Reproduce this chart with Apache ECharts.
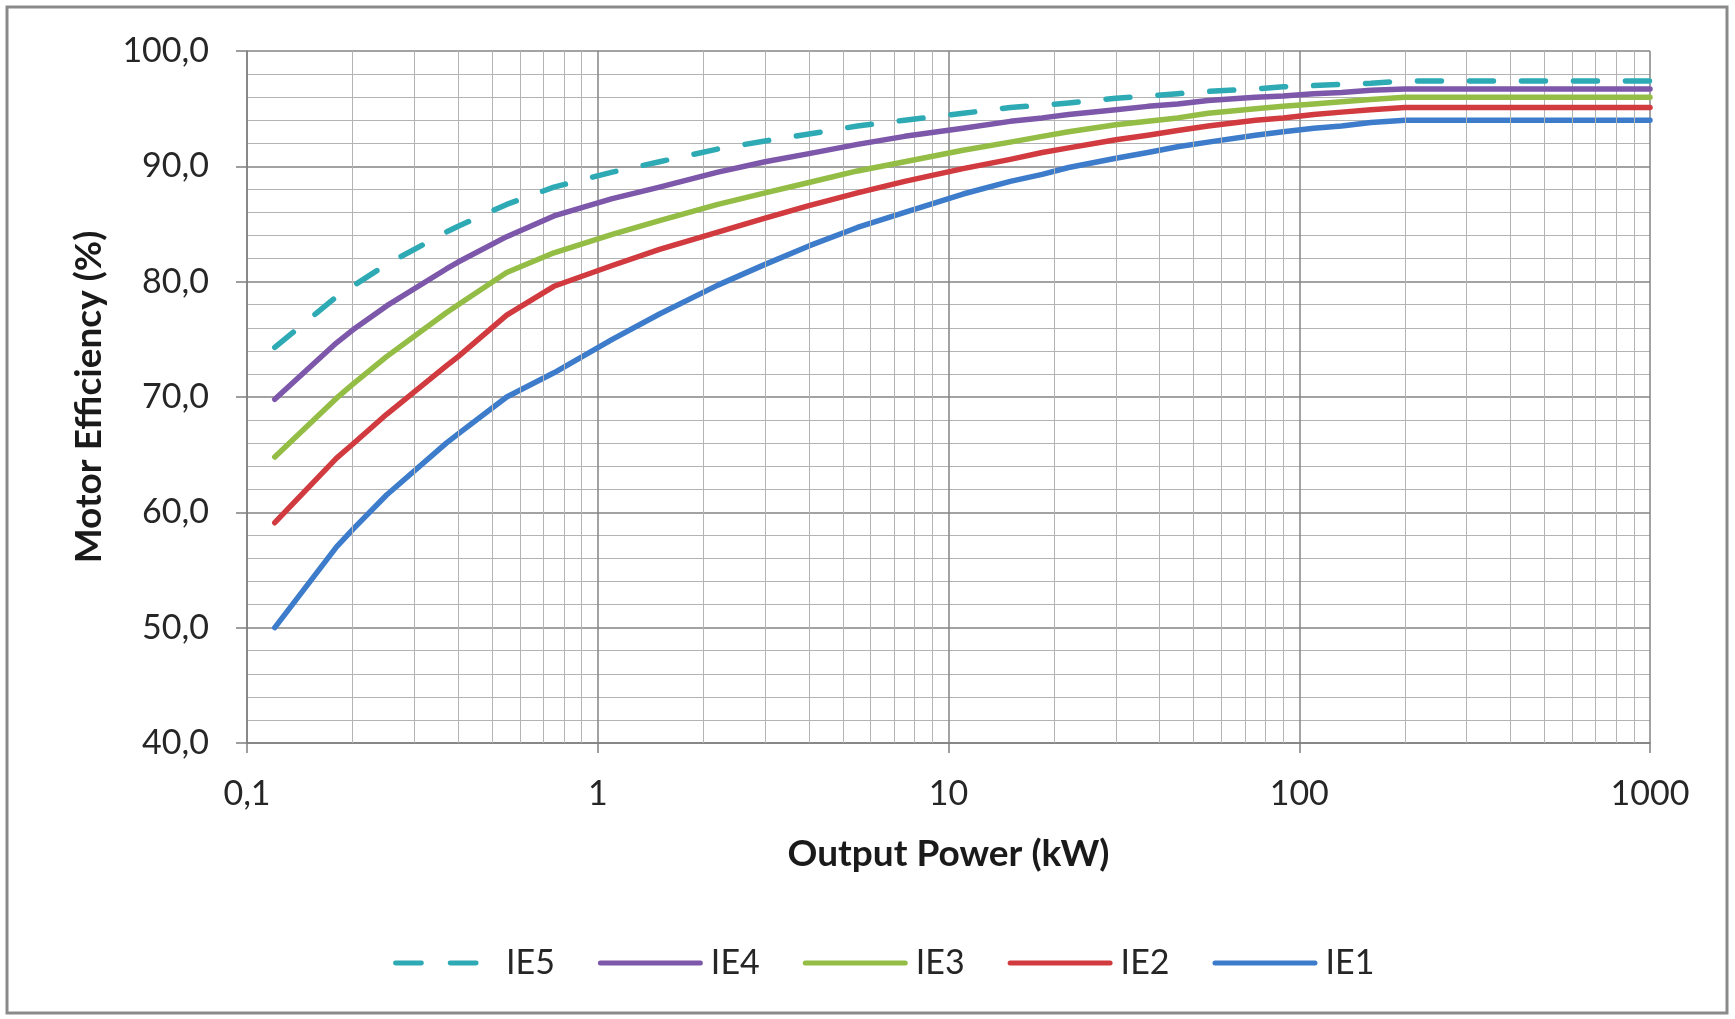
<!DOCTYPE html>
<html>
<head>
<meta charset="utf-8">
<title>Motor Efficiency</title>
<script src="https://cdn.jsdelivr.net/npm/echarts@6/dist/echarts.min.js"></script>
<style>
  html, body { margin: 0; padding: 0; background: #fff; }
  #chart { width: 1735px; height: 1019px; }
</style>
</head>
<body>
<div id="chart"></div>
<script>
// output power (kW), standard ratings
var power = [0.12, 0.18, 0.2, 0.25, 0.37, 0.4, 0.55, 0.75, 1.1, 1.5, 2.2, 3, 4, 5.5, 7.5,
  11, 15, 18.5, 22, 30, 37, 45, 55, 75, 90, 110, 132, 160, 200, 1000];

// efficiency (%) per class
var ie1 = [50.0, 57.0, 58.5, 61.5, 66.0, 66.8, 70.0, 72.1, 75.0, 77.2, 79.7, 81.5, 83.1, 84.7, 86.0,
  87.6, 88.7, 89.3, 89.9, 90.7, 91.2, 91.7, 92.1, 92.7, 93.0, 93.3, 93.5, 93.8, 94.0, 94.0];
var ie2 = [59.1, 64.7, 65.9, 68.5, 72.7, 73.5, 77.1, 79.6, 81.4, 82.8, 84.3, 85.5, 86.6, 87.7, 88.7,
  89.8, 90.6, 91.2, 91.6, 92.3, 92.7, 93.1, 93.5, 94.0, 94.2, 94.5, 94.7, 94.9, 95.1, 95.1];
var ie3 = [64.8, 69.9, 71.1, 73.5, 77.3, 78.0, 80.8, 82.5, 84.1, 85.3, 86.7, 87.7, 88.6, 89.6, 90.4,
  91.4, 92.1, 92.6, 93.0, 93.6, 93.9, 94.2, 94.6, 95.0, 95.2, 95.4, 95.6, 95.8, 96.0, 96.0];
var ie4 = [69.8, 74.7, 75.8, 77.9, 81.1, 81.7, 83.9, 85.7, 87.2, 88.2, 89.5, 90.4, 91.1, 91.9, 92.6,
  93.3, 93.9, 94.2, 94.5, 94.9, 95.2, 95.4, 95.7, 96.0, 96.1, 96.3, 96.4, 96.6, 96.7, 96.7];
var ie5 = [74.3, 78.7, 79.6, 81.5, 84.3, 84.8, 86.7, 88.2, 89.5, 90.4, 91.5, 92.2, 92.8, 93.5, 94.0,
  94.6, 95.1, 95.3, 95.5, 95.9, 96.1, 96.3, 96.5, 96.7, 96.9, 97.0, 97.1, 97.2, 97.4, 97.4];

var xTickLabels = ['0,1', '1', '10', '100', '1000'];
var yTickLabels = ['40,0', '50,0', '60,0', '70,0', '80,0', '90,0', '100,0'];
// minor vertical grid positions (2..9 of every decade)
var minorX = [0.2, 0.3, 0.4, 0.5, 0.6, 0.7, 0.8, 0.9, 2, 3, 4, 5, 6, 7, 8, 9,
  20, 30, 40, 50, 60, 70, 80, 90, 200, 300, 400, 500, 600, 700, 800, 900];

var names = ['IE5', 'IE4', 'IE3', 'IE2', 'IE1'];
var values = [ie5, ie4, ie3, ie2, ie1];
var colorList = ['#2EAAB5', '#7D57A9', '#93BD45', '#D13B3F', '#3D7CCB'];

var FONT = 'Lato';
var chart = echarts.init(document.getElementById('chart'));

function pairs(ys) {
  return power.map(function (p, i) { return [p, ys[i]]; });
}

var series = [{
  name: 'minorGrid',
  type: 'line',
  data: [],
  silent: true,
  z: 1,
  markLine: {
    silent: true,
    symbol: ['none', 'none'],
    label: { show: false },
    animation: false,
    lineStyle: { color: '#b3b3b3', width: 1, type: 'solid' },
    emphasis: { disabled: true },
    data: minorX.map(function (v) { return { xAxis: v }; })
  }
}];

names.forEach(function (n, i) {
  series.push({
    name: n,
    type: 'line',
    data: pairs(values[i]),
    symbol: 'none',
    smooth: false,
    z: 3 + (names.length - i),
    lineStyle: {
      width: 5.5,
      color: colorList[i],
      type: i === 0 ? [24, 28] : 'solid',
      cap: 'round',
      join: 'round'
    },
    itemStyle: { color: colorList[i] }
  });
});

// legend icons: two dashes (padded to full width) for IE5, plain bar for the rest
var dashIcon = 'path://M2,0H28A2.5,2.5,0,0,1,28,5H2A2.5,2.5,0,0,1,2,0Z M57,0H83A2.5,2.5,0,0,1,83,5H57A2.5,2.5,0,0,1,57,0Z M105,2.5L105,2.51L104.99,2.51Z';
var barIcon = 'path://M2.5,0H102.5A2.5,2.5,0,0,1,102.5,5H2.5A2.5,2.5,0,0,1,2.5,0Z';

var option = {
  backgroundColor: '#fff',
  animation: false,
  textStyle: { fontFamily: FONT },
  graphic: [{
    type: 'rect',
    shape: { x: 7, y: 7, width: 1720, height: 1006 },
    style: { fill: 'none', stroke: '#8a8a8a', lineWidth: 3 },
    silent: true,
    z: -1
  }],
  grid: { left: 247, right: 85, top: 51, bottom: 276, containLabel: false },
  legend: {
    data: names.map(function (n, i) {
      return { name: n, icon: i === 0 ? dashIcon : barIcon };
    }),
    left: 388,
    top: 941,
    itemWidth: 105,
    itemHeight: 5,
    itemGap: 43,
    textStyle: { fontFamily: FONT, fontSize: 34, color: '#262626', padding: [0, 0, 0, 3] }
  },
  xAxis: {
    type: 'log',
    logBase: 10,
    min: 0.1,
    max: 1000,
    name: 'Output Power (kW)',
    nameLocation: 'middle',
    nameGap: 93,
    nameTextStyle: { fontFamily: FONT, fontSize: 37, fontWeight: 'bold', color: '#1a1a1a' },
    axisLine: { show: true, lineStyle: { color: '#7f7f7f', width: 1.5 } },
    axisTick: { show: true, length: 10, lineStyle: { color: '#7f7f7f', width: 1.5 } },
    axisLabel: {
      margin: 34,
      fontSize: 34,
      color: '#262626',
      formatter: function (v, idx) { return xTickLabels[idx]; }
    },
    splitLine: { show: true, lineStyle: { color: '#858585', width: 1.5 } }
  },
  yAxis: {
    type: 'value',
    min: 40,
    max: 100,
    interval: 10,
    name: 'Motor Efficiency (%)',
    nameLocation: 'middle',
    nameGap: 139,
    nameTextStyle: { fontFamily: FONT, fontSize: 37, fontWeight: 'bold', color: '#1a1a1a' },
    axisLine: { show: true, lineStyle: { color: '#7f7f7f', width: 1.5 } },
    axisTick: { show: true, length: 11, lineStyle: { color: '#7f7f7f', width: 1.5 } },
    axisLabel: {
      margin: 38,
      fontSize: 34,
      color: '#262626',
      formatter: function (v, idx) { return yTickLabels[idx]; }
    },
    splitLine: { show: true, lineStyle: { color: '#858585', width: 1.5 } },
    minorTick: { show: false, splitNumber: 5 },
    minorSplitLine: { show: true, lineStyle: { color: '#b3b3b3', width: 1 } }
  },
  series: series
};

chart.setOption(option);
window.addEventListener('resize', function () {
  chart.resize();
});
</script>
</body>
</html>
